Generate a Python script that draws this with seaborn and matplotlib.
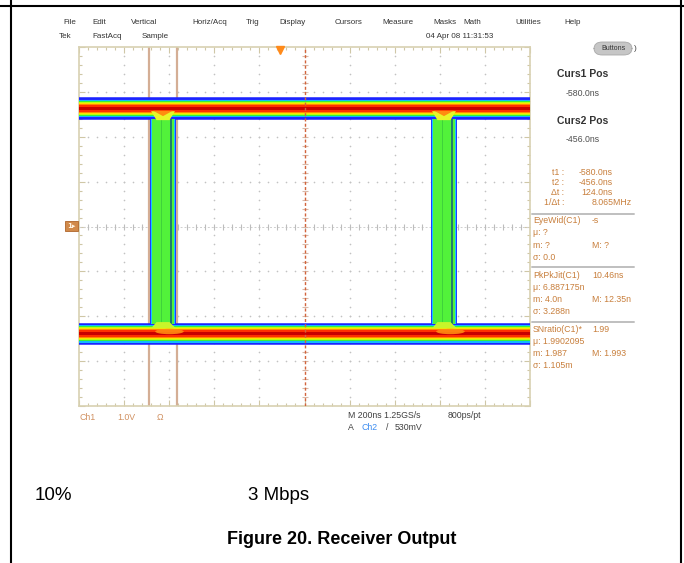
import numpy as np
import pandas as pd
import matplotlib
matplotlib.use("Agg")
import matplotlib.pyplot as plt
import seaborn as sns
from matplotlib.lines import Line2D
from matplotlib.patches import FancyBboxPatch, Rectangle, Ellipse, Polygon
from matplotlib.ticker import FixedLocator

# ---- acquisition settings ----
ns_per_div = 200
volts_per_div = 1.0
screen_left_ns = -891
h_divs, v_divs = 10, 8
center_ns = 109            # horizontal position marker
trigger_ns = 0

# ---- eye pattern (fast-acquisition persistence) ----
level_v = [2.63, -2.39]                 # logic high, logic low
edge_start_ns = [-576, 670]
edge_end_ns = [-461, 785]
cursor_ns = [-580.0, -456.0]

# persistence colour scale, rarest hits (outside) to most frequent (core)
persist_colors = ["#1f2bff", "#12b8ff", "#38f038", "#b8ff10",
                  "#ffe000", "#ff8a00", "#ff3000", "#c80000"]
persist_halfwidth_v = [0.225, 0.195, 0.165, 0.14, 0.12, 0.10, 0.078, 0.035]

# ---- screen text ----
menu_items = ["File", "Edit", "Vertical", "Horiz/Acq", "Trig", "Display",
              "Cursors", "Measure", "Masks", "Math", "Utilities", "Help"]
status_items = ["Tek", "FastAcq", "Sample"]
timestamp = "04 Apr 08 11:31:53"
meas_rows = [
    ("EyeWid(C1)", "-s"), ("μ: ?", ""), ("m: ?", "M: ?"), ("σ: 0.0", ""),
    ("PkPkJit(C1)", "10.46ns"), ("μ: 6.887175n", ""), ("m: 4.0n", "M: 12.35n"), ("σ: 3.288n", ""),
    ("SNratio(C1)*", "1.99"), ("μ: 1.9902095", ""), ("m: 1.987", "M: 1.993"), ("σ: 1.105m", ""),
]
channel_info = ["Ch1", "1.0V", "Ω"]
horiz_info = ["M 200ns 1.25GS/s", "800ps/pt"]
trig_source, trig_level = "Ch2", "530mV"
caption_items = ["10%", "3 Mbps"]
figure_title = "Figure 20. Receiver Output"

# ---------------------------------------------------------------
sns.set_theme(style="white")
plt.rcParams["font.family"] = ["Liberation Sans", "DejaVu Sans"]

W, H = 684, 563
fig = plt.figure(figsize=(W / 100, H / 100), dpi=100)
fig.patch.set_facecolor("white")


def ftext(x, y, s, **kw):
    kw.setdefault("va", "center")
    fig.text(x / W, 1 - y / H, s, **kw)


# page frame
fig.add_artist(Line2D([0, 1], [1 - 6 / H] * 2, color="black", lw=1.5))
fig.add_artist(Line2D([11 / W] * 2, [0, 1], color="black", lw=1.5))
fig.add_artist(Line2D([681 / W] * 2, [0, 1], color="black", lw=1.5))

# ---- graticule ----
ax = fig.add_axes([79 / W, 1 - 406 / H, 451 / W, 359 / H])
x0 = screen_left_ns
x1 = x0 + h_divs * ns_per_div
y0, y1 = -v_divs / 2 * volts_per_div, v_divs / 2 * volts_per_div
ax.set_xlim(x0, x1)
ax.set_ylim(y0, y1)
ax.set_facecolor("white")
for sp in ax.spines.values():
    sp.set_color("#d8d1b2")
    sp.set_linewidth(1.2)
xmaj = np.linspace(x0, x1, h_divs + 1)
xmin = np.linspace(x0, x1, h_divs * 5 + 1)
ymaj = np.linspace(y0, y1, v_divs + 1)
ymin = np.linspace(y0, y1, v_divs * 5 + 1)
ax.xaxis.set_major_locator(FixedLocator(xmaj))
ax.xaxis.set_minor_locator(FixedLocator(xmin))
ax.yaxis.set_major_locator(FixedLocator(ymaj))
ax.yaxis.set_minor_locator(FixedLocator(ymin))
ax.tick_params(which="both", direction="in", top=True, bottom=True, left=True,
               right=True, labelbottom=False, labelleft=False, color="#cfc7a6")
ax.tick_params(which="major", length=4, width=0.8)
ax.tick_params(which="minor", length=2.5, width=0.8)
ax.grid(False)

# dotted division lines
dot_x, dot_y = [], []
for gx in xmaj[1:-1]:
    if abs(gx - center_ns) < 1:
        continue
    dot_x += [gx] * (len(ymin) - 2)
    dot_y += list(ymin[1:-1])
for gy in ymaj[1:-1]:
    if abs(gy) < 1e-9:
        continue
    dot_x += list(xmin[1:-1])
    dot_y += [gy] * (len(xmin) - 2)
ax.scatter(dot_x, dot_y, s=1.4, color="#c2c2c2", linewidths=0, zorder=1)

# centre crosshair with sub-division ticks
ax.axhline(0, color="#cfcfcf", lw=0.7, ls=(0, (2, 2)), zorder=1)
ax.plot(xmin[1:-1], np.zeros(len(xmin) - 2), ls="none", marker="|", ms=4,
        mew=0.8, color="#bdbdbd", zorder=1)
ax.plot(np.full(len(ymin) - 2, center_ns), ymin[1:-1], ls="none", marker="_",
        ms=4, mew=0.8, color="#d9b8a8", zorder=1)

# cursors
for c in cursor_ns:
    ax.axvline(c, color="#d4ae95", lw=1.6, zorder=2)

# transition regions of the eye
hi, lo = level_v
for ts, te in zip(edge_start_ns, edge_end_ns):
    w = te - ts
    ya, yb = lo + 0.12, hi - 0.12
    ax.fill_between([ts, te], ya, yb, color="#1f3cff", lw=0, zorder=2.5)
    ax.fill_between([ts + 0.04 * w, te - 0.02 * w], ya, yb, color="#18c8ff", lw=0, zorder=2.5)
    ax.fill_between([ts + 0.08 * w, te - 0.08 * w], ya, yb, color="#52f23a", lw=0, zorder=2.5)
    ax.fill_between([te - 0.22 * w, te - 0.16 * w], ya, yb, color="#1f7f6a", lw=0, zorder=2.6)
    ax.fill_between([ts + 0.42 * w, ts + 0.46 * w], ya, yb, color="#3fd23a", lw=0, zorder=2.6)

# logic-level bands, drawn from the outer colour inwards
for lvl in level_v:
    for col, hw in zip(persist_colors, persist_halfwidth_v):
        ax.fill_between([x0, x1], lvl - hw, lvl + hw, color=col, lw=0, zorder=3)

# where the edges merge into the levels: a wedge fanning out into each band
for ts, te in zip(edge_start_ns, edge_end_ns):
    w = te - ts
    m = (ts + te) / 2
    ax.add_patch(Polygon([(ts + 0.04 * w, hi - 0.06), (te - 0.04 * w, hi - 0.06),
                          (te - 0.25 * w, hi - 0.26), (ts + 0.25 * w, hi - 0.26)],
                         closed=True, color="#e8f52a", lw=0, zorder=3.4))
    ax.add_patch(Polygon([(ts + 0.12 * w, hi - 0.05), (te - 0.12 * w, hi - 0.05),
                          (m, hi - 0.17)],
                         closed=True, color="#ff8c10", lw=0, zorder=3.5))
    ax.add_patch(Ellipse((m + 0.25 * w, lo + 0.05), 1.1 * w, 0.12, color="#ff8c10",
                         lw=0, zorder=3.5, alpha=0.9))
    ax.add_patch(Polygon([(ts + 0.25 * w, lo + 0.26), (te - 0.25 * w, lo + 0.26),
                          (te, lo + 0.12), (ts + 0.04 * w, lo + 0.12)],
                         closed=True, color="#c8f52a", lw=0, zorder=3.4))

# outer single-hit traces
outline = []
hw_out = persist_halfwidth_v[0]
gaps = [x0] + [v for pair in zip(edge_start_ns, edge_end_ns) for v in pair] + [x1]
k = 0
for lvl, side in [(hi, 1), (lo, -1)]:
    outline.append(pd.DataFrame({"t": [x0, x1], "v": [lvl + side * hw_out] * 2, "trace": k}))
    k += 1
    for a, b in zip(gaps[0::2], gaps[1::2]):
        outline.append(pd.DataFrame({"t": [a, b], "v": [lvl - side * hw_out] * 2, "trace": k}))
        k += 1
outline = pd.concat(outline, ignore_index=True)
sns.lineplot(data=outline, x="t", y="v", units="trace", estimator=None, sort=False,
             color="#1a22ff", lw=1.1, ax=ax, zorder=3.6, legend=False)

# horizontal position marker and trigger point
ax.axvline(center_ns, color="#d2643c", lw=1.0, ls=(0, (2.2, 1.6)), zorder=4)
ax.plot([trigger_ns], [y1 - 0.06], marker="v", ms=5.5, color="#ff8a1a",
        mec="#ff8a1a", clip_on=False, zorder=5)
ax.set_xlabel("")
ax.set_ylabel("")

# channel 1 ground marker
fig.add_artist(Rectangle((65 / W, 1 - 231 / H), 13 / W, 10 / H, transform=fig.transFigure,
                         facecolor="#d18a4a", edgecolor="#b0652a", lw=0.6))
ftext(71.5, 226, "1▸", ha="center", fontsize=5, color="#fff2e0", fontweight="bold",
      family=["DejaVu Sans"])

# ---- menu and status rows ----
menu_x = [70, 99, 144, 210, 253, 293, 349, 398, 445, 472, 528, 573]
for s, x in zip(menu_items, menu_x):
    ftext(x, 22, s, ha="center", fontsize=5.8, color="#333333")
for s, x in zip(status_items, [65, 107, 155]):
    ftext(x, 37, s, ha="center", fontsize=5.8, color="#333333")
ftext(460, 37, timestamp, ha="center", fontsize=5.8, color="#333333")

fig.add_artist(FancyBboxPatch((594 / W, 1 - 55 / H), 38 / W, 13 / H,
                              boxstyle="round,pad=0,rounding_size=0.012",
                              transform=fig.transFigure, facecolor="#c6c6c6",
                              edgecolor="#a8a8a8", lw=0.6))
ftext(613, 48.5, "Buttons", ha="center", fontsize=5, color="#333333")
ftext(634, 48.5, ")", ha="left", fontsize=6, color="#444444")

# ---- cursor readouts ----
dt = cursor_ns[1] - cursor_ns[0]
for i, c in enumerate(cursor_ns):
    ftext(583, 74 + 47 * i, f"Curs{i + 1} Pos", ha="center", fontsize=7.5,
          fontweight="bold", color="#333333")
    ftext(583, 93 + 47 * i, f"{c:.1f}ns", ha="center", fontsize=6.3, color="#505050")
readout_labels = ["t1 :", "t2 :", "Δt :", "1/Δt :"]
readout_values = [f"{cursor_ns[0]:.1f}ns", f"{cursor_ns[1]:.1f}ns", f"{dt:.1f}ns",
                  f"{1e3 / dt:.3f}MHz"]
for i, (lab, val) in enumerate(zip(readout_labels, readout_values)):
    y = 172.5 + 10 * i
    ftext(564, y, lab, ha="right", fontsize=6.3, color="#c87f3c")
    ftext(632 if i == 3 else 613, y, val, ha="right", fontsize=6.3, color="#c87f3c")

# ---- measurement panel ----
for ysep in [213.5, 267, 322]:
    fig.add_artist(Line2D([532 / W, 634 / W], [1 - ysep / H] * 2, color="#bfbfbf", lw=1.4))
meas_y = [221, 233, 245, 257, 275, 287, 299, 311, 329, 341, 353, 365]
for (a, b), y in zip(meas_rows, meas_y):
    ftext(533, y, a, ha="left", fontsize=6.3, color="#c87f3c")
    if b:
        ftext(592, y, b, ha="left", fontsize=6.3, color="#c87f3c")

# ---- channel / timebase readouts ----
for s, x in zip(channel_info, [79, 117, 157]):
    ftext(x, 417, s, ha="left", fontsize=6.3, color="#d09060")
ftext(348, 416, horiz_info[0], ha="left", fontsize=6.3, color="#404040")
ftext(448, 416, horiz_info[1], ha="left", fontsize=6.3, color="#404040")
ftext(348, 428, "A", ha="left", fontsize=6.3, color="#404040")
ftext(361, 428, trig_source, ha="left", fontsize=6.3, color="#3c8cf0")
ftext(386, 428, "/", ha="left", fontsize=6.3, color="#404040")
ftext(395, 428, trig_level, ha="left", fontsize=6.3, color="#404040")

# ---- page text ----
ftext(35, 495, caption_items[0], ha="left", fontsize=13.5, color="black")
ftext(248, 495, caption_items[1], ha="left", fontsize=13.5, color="black")
ftext(342, 539, figure_title, ha="center", fontsize=13, fontweight="bold", color="black")

fig.savefig("out.png", dpi=100)
